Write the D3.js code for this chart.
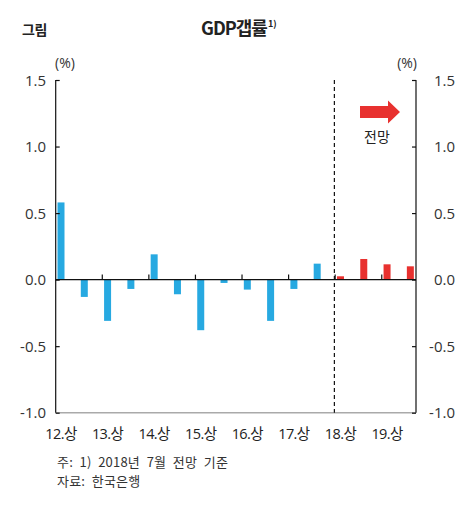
<!DOCTYPE html>
<html><head><meta charset="utf-8">
<script src="https://cdn.jsdelivr.net/npm/d3@7"></script>
<style>
body{margin:0;background:#fff;}
svg{display:block;font-family:"Open Sans","Noto Sans CJK KR",sans-serif;}
</style></head>
<body>
<script>
const categories = ["12.상","12.하","13.상","13.하","14.상","14.하","15.상","15.하","16.상","16.하","17.상","17.하","18.상","18.하","19.상","19.하"];
const values = [0.58,-0.13,-0.31,-0.07,0.19,-0.11,-0.38,-0.025,-0.075,-0.31,-0.07,0.12,0.025,0.155,0.115,0.10];
const forecastStart = "18.상";
const yTicks = [1.5,1.0,0.5,0.0,-0.5,-1.0];
const xLabels = ["12.상","13.상","14.상","15.상","16.상","17.상","18.상","19.상"];
const title = "GDP갭률";
const figLabel = "그림";
const notes = ["주: 1) 2018년 7월 전망 기준","자료: 한국은행"];

const W=476,H=510;
const mL=55.7,mR=416,mT=80,mB=412.7;
const svg=d3.select("body").append("svg").attr("width",W).attr("height",H);

const x=d3.scaleBand().domain(categories).range([mL,mL+16*23.29]).padding(0);
const y=d3.scaleLinear().domain([-1,1.5]).range([mB,mT]);
const barOff=1.8, barW=7;
const fIdx=categories.indexOf(forecastStart);

// title
svg.append("text").attr("x",22).attr("y",35).attr("font-family","'Noto Sans CJK KR',sans-serif").attr("font-weight",700).attr("font-size",14).attr("fill","#222").attr("letter-spacing",-0.5).text(figLabel);
const t=svg.append("text").attr("x",201).attr("y",35).attr("font-family","'Noto Sans CJK KR',sans-serif").attr("font-weight",700).attr("font-size",18).attr("fill","#222").attr("letter-spacing",-1);
t.append("tspan").text(title);
t.append("tspan").attr("font-size",9).attr("dy",-8).attr("dx",1).attr("letter-spacing",0).text("1)");

// units
svg.append("text").attr("x",55).attr("y",68).attr("font-size",14).attr("fill","#333").text("(%)");
svg.append("text").attr("x",417).attr("y",68).attr("text-anchor","end").attr("font-size",14).attr("fill","#333").text("(%)");

// bottom gray baseline
svg.append("line").attr("x1",mL).attr("x2",mR).attr("y1",y(-1)).attr("y2",y(-1)).attr("stroke","#aaa").attr("stroke-width",1.6);

// bars
svg.append("g").selectAll("rect").data(values).join("rect")
  .attr("x",(d,i)=>x(categories[i])+barOff)
  .attr("width",barW)
  .attr("y",d=>y(Math.max(0,d)))
  .attr("height",d=>Math.abs(y(d)-y(0)))
  .attr("fill",(d,i)=>i>=fIdx?"#e8312f":"#27a9e1");

// zero line
svg.append("line").attr("x1",mL).attr("x2",mR).attr("y1",y(0)).attr("y2",y(0)).attr("stroke","#111").attr("stroke-width",1.2);
// year ticks on zero line
svg.append("g").selectAll("line").data(xLabels.slice(1)).join("line")
  .attr("x1",d=>x(d)).attr("x2",d=>x(d)).attr("y1",y(0)).attr("y2",y(0)-5).attr("stroke","#111").attr("stroke-width",1.2);

// dashed forecast line
svg.append("line").attr("x1",x(forecastStart)-0.8).attr("x2",x(forecastStart)-0.8).attr("y1",mT).attr("y2",mB)
  .attr("stroke","#111").attr("stroke-width",1.2).attr("stroke-dasharray","4,3");

// axes
const yl=d3.axisRight(y).tickValues(yTicks).tickSize(4).tickFormat("");
const gl=svg.append("g").attr("transform",`translate(${mL},0)`).call(yl);
const yr=d3.axisLeft(y).tickValues(yTicks).tickSize(4).tickFormat("");
const gr=svg.append("g").attr("transform",`translate(${mR},0)`).call(yr);
[gl,gr].forEach(g=>{g.select(".domain").attr("stroke","#111").attr("stroke-width",1.2).attr("d",`M0,${mT}V${mB}`);g.selectAll(".tick line").attr("stroke","#111").attr("stroke-width",1.2);});

// tick labels
svg.append("g").selectAll("text").data(yTicks).join("text")
  .attr("x",46).attr("y",d=>y(d)+5.5).attr("text-anchor","end").attr("font-size",15).attr("fill","#333").text(d=>d.toFixed(1));
svg.append("g").selectAll("text").data(yTicks).join("text")
  .attr("x",455).attr("y",d=>y(d)+5.5).attr("text-anchor","end").attr("font-size",15).attr("fill","#333").text(d=>d.toFixed(1));

// x labels
svg.append("g").selectAll("text").data(xLabels).join("text")
  .attr("x",d=>x(d)+barOff+barW/2).attr("y",439).attr("text-anchor","middle").attr("font-size",14.5).attr("letter-spacing",-0.6).attr("fill","#222").text(d=>d);

// arrow
const ax=360, ay=112;
svg.append("path").attr("d",`M${ax},${ay-6}H${ax+28}V${ay-11.5}L${ax+40},${ay}L${ax+28},${ay+11.5}V${ay+6}H${ax}Z`).attr("fill","#e8312f");
svg.append("text").attr("x",377).attr("y",141.5).attr("text-anchor","middle").attr("font-family","'Noto Sans CJK KR',sans-serif").attr("font-size",14).attr("fill","#222").text("전망");

// notes
svg.append("g").selectAll("text").data(notes).join("text")
  .attr("x",57).attr("y",(d,i)=>467+i*19).attr("font-family","'Noto Sans CJK KR',sans-serif").attr("font-size",13).attr("fill","#333").attr("word-spacing",3.5).attr("letter-spacing",0.2).text(d=>d);
</script>
</body></html>
